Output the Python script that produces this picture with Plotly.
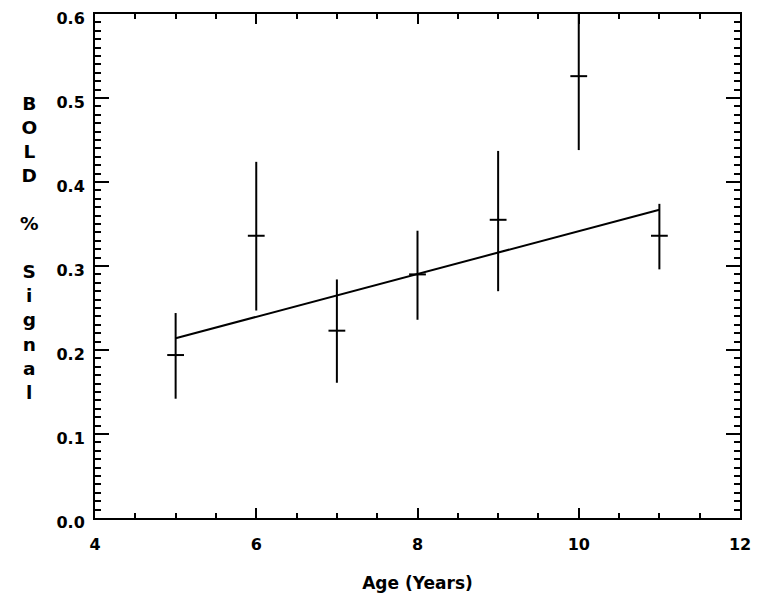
import plotly.graph_objects as go

# values
age = [5, 6, 7, 8, 9, 10, 11]
bold_signal = [0.194, 0.336, 0.223, 0.290, 0.355, 0.526, 0.336]
err_plus = [0.050, 0.088, 0.061, 0.052, 0.082, 0.088, 0.038]
err_minus = [0.052, 0.089, 0.062, 0.054, 0.085, 0.088, 0.040]

fit_age = [5, 11]
fit_signal = [0.214, 0.367]

x_range = [4, 12]
y_range = [0, 0.6]

font_family = "DejaVu Sans, Arial, sans-serif"

fig = go.Figure()
fig.add_trace(go.Scatter(
    x=age, y=bold_signal, mode="markers",
    marker=dict(symbol="line-ew", size=12, color="black", line=dict(width=2, color="black")),
    error_y=dict(type="data", symmetric=False, array=err_plus, arrayminus=err_minus,
                 color="black", thickness=2, width=0),
    showlegend=False,
))
fig.add_trace(go.Scatter(
    x=fit_age, y=fit_signal, mode="lines",
    line=dict(color="black", width=2), showlegend=False,
))

axis_common = dict(
    showline=True, linecolor="black", linewidth=2, mirror="allticks",
    ticks="inside", tickcolor="black", tickwidth=2,
    showgrid=False, zeroline=False, automargin=False, ticklabeloverflow="allow",
    tickfont=dict(family=font_family, size=16, color="black", weight="bold"),
)

fig.update_xaxes(
    range=x_range, dtick=2, ticklen=10, ticklabelstandoff=11,
    minor=dict(dtick=0.5, ticklen=5, ticks="inside", tickcolor="black", tickwidth=2),
    title=dict(text="Age (Years)", standoff=24,
               font=dict(family=font_family, size=17, color="black", weight="bold")),
    **axis_common,
)
fig.update_yaxes(
    range=y_range, dtick=0.1, tickformat=".1f", ticklen=14, ticklabelstandoff=5,
    ticklabelshift=4,
    minor=dict(dtick=0.01, ticklen=6, ticks="inside", tickcolor="black", tickwidth=2),
    **axis_common,
)

fig.add_annotation(
    text="B<br>O<br>L<br>D<br><br>%<br><br>S<br>i<br>g<br>n<br>a<br>l",
    xref="paper", yref="paper", x=-0.101, y=0.535,
    xanchor="center", yanchor="middle", showarrow=False, align="center",
    font=dict(family=font_family, size=18.5, color="black", weight="bold"),
)

# the page adds an 8px body margin, so the figure is 8px smaller each way
fig.update_layout(
    width=757, height=594,
    margin=dict(l=87, r=25, t=6, b=84),
    paper_bgcolor="white", plot_bgcolor="white",
)

fig.write_html("out.html")
